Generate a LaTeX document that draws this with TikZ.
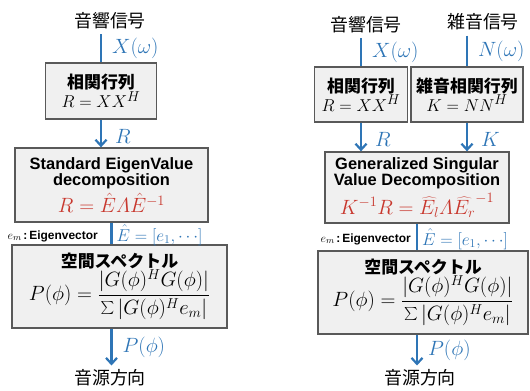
\documentclass[tikz,border=0pt]{standalone}
\usepackage{fontspec}
\setsansfont{Liberation Sans}
\newfontfamily\jp{Noto Sans CJK JP}
\usetikzlibrary{arrows.meta}
\definecolor{bl}{HTML}{2E75B6}
\definecolor{rd}{HTML}{C8372D}
\definecolor{bx}{HTML}{F0F0F0}
\definecolor{bd}{HTML}{595959}
\newcommand{\ttl}[1]{{\jp\bfseries\fontsize{17}{21}\selectfont #1}}
\newcommand{\eng}[1]{{\sffamily\bfseries\fontsize{16.5}{20}\selectfont #1}}
\newcommand{\fml}[1]{{\fontsize{19}{22}\selectfont #1}}
\newcommand{\fbig}[1]{{\fontsize{21.5}{24}\selectfont #1}}
\newcommand{\bigsum}{\mathop{\scalebox{1.3}{$\sum$}}\nolimits}
\newcommand{\eigl}{{\fontsize{13}{15}\selectfont$e_m$}\,{\sffamily\bfseries\fontsize{12}{14}\selectfont:\,Eigenvector}}
\newcommand{\ehat}{{\fontsize{16.5}{18}\selectfont$\hat{E}=[e_1,\cdots]$}}
\begin{document}
\begin{tikzpicture}[x=1bp,y=-1bp,
  box/.style={draw=bd,fill=bx,line width=1.3bp,align=center,inner sep=0pt},
  conn/.style={draw=bl,line width=2.2bp},
  arr/.style={conn,-{Straight Barb[length=6bp,width=11bp,line width=2.2bp]}},
  lab/.style={text=bl,font=\fontsize{21}{23}\selectfont,inner sep=2bp},
  elab/.style={text=bl,inner sep=1bp},
  sig/.style={font=\jp\fontsize{18}{20}\selectfont,inner sep=1bp},
  ev/.style={inner sep=0pt}]
\useasboundingbox (0,0) rectangle (530,390);

% ---------- left column ----------
\node[sig] (sigL) at (110,21) {音響信号};
\node[box,minimum width=111bp,minimum height=56bp] (L1) at (101,91)
  {\ttl{相関行列}\\\fml{$R = XX^{H}$}};
\node[box,minimum width=193bp,minimum height=74bp] (L2) at (111.5,185)
  {\eng{Standard EigenValue}\\\eng{decomposition}\\[3bp]\textcolor{rd}{\fbig{$R=\hat{E}\mathnormal{\Lambda}\hat{E}^{-1}$}}};
\node[box,minimum width=215bp,minimum height=83bp] (L3) at (119.5,286.5)
  {\ttl{空間スペクトル}\\[-1bp]\fbig{$\displaystyle P(\phi)=\frac{|G(\phi)^{H}G(\phi)|}{\bigsum|G(\phi)^{H}e_m|}$}};
\node[sig] (outL) at (110,378) {音源方向};

\draw[conn] ([yshift=-4bp]sigL.south -| L1.north) -- node[lab,right=8bp]{$X(\omega)$} (L1.north);
\draw[arr] (L1.south) -- node[lab,right=11bp,pos=0.6]{$R$} (L1.south |- L2.north);
\draw[conn] (L2.south) -- node[elab,right=3bp,pos=0.58]{\ehat} (L2.south |- L3.north);
\node[ev,anchor=east] (evL) at (98,236) {\eigl};
\draw[arr] (L3.south -| L2.south) -- node[lab,right=8bp,pos=0.5]{$P(\phi)$} ([yshift=3bp]L2.south |- outL.north);

% ---------- right column ----------
\node[sig] (sigR1) at (366,25) {音響信号};
\node[sig] (sigR2) at (483,22) {雑音信号};
\node[box,minimum width=93bp,minimum height=55bp] (R1) at (361,94.5)
  {\ttl{相関行列}\\\fml{$R = XX^{H}$}};
\node[box,minimum width=112bp,minimum height=55bp] (R2) at (467,94.5)
  {\ttl{雑音相関行列}\\\fml{$K = NN^{H}$}};
\node[box,minimum width=184bp,minimum height=71bp] (G) at (417,187.5)
  {\eng{Generalized Singular}\\\eng{Value Decomposition}\\[3bp]\textcolor{rd}{\fbig{$K^{-1}R=\widehat{E_l}\mathnormal{\Lambda}\widehat{E_r}^{-1}$}}};
\node[box,minimum width=210bp,minimum height=83bp] (R3) at (423,292.5)
  {\ttl{空間スペクトル}\\[-1bp]\fbig{$\displaystyle P(\phi)=\frac{|G(\phi)^{H}G(\phi)|}{\bigsum|G(\phi)^{H}e_m|}$}};
\node[sig] (outR) at (420,378) {音源方向};

\draw[conn] ([yshift=-4bp]sigR1.south -| R1.north) -- node[lab,right=8bp]{$X(\omega)$} (R1.north);
\draw[conn] ([yshift=-4bp]sigR2.south -| R2.north) -- node[lab,right=8bp]{$N(\omega)$} (R2.north);
\draw[arr] (R1.south) -- node[lab,right=11bp,pos=0.6]{$R$} (R1.south |- G.north);
\draw[arr] (R2.south) -- node[lab,right=11bp,pos=0.6]{$K$} (R2.south |- G.north);
\draw[conn] (G.south) -- node[elab,right=3bp,pos=0.58]{\ehat} (G.south |- R3.north);
\node[ev,anchor=east] (evR) at (411,239) {\eigl};
\draw[arr] (R3.south -| G.south) -- node[lab,right=8bp,pos=0.5]{$P(\phi)$} ([yshift=3bp]G.south |- outR.north);
\end{tikzpicture}
\end{document}
